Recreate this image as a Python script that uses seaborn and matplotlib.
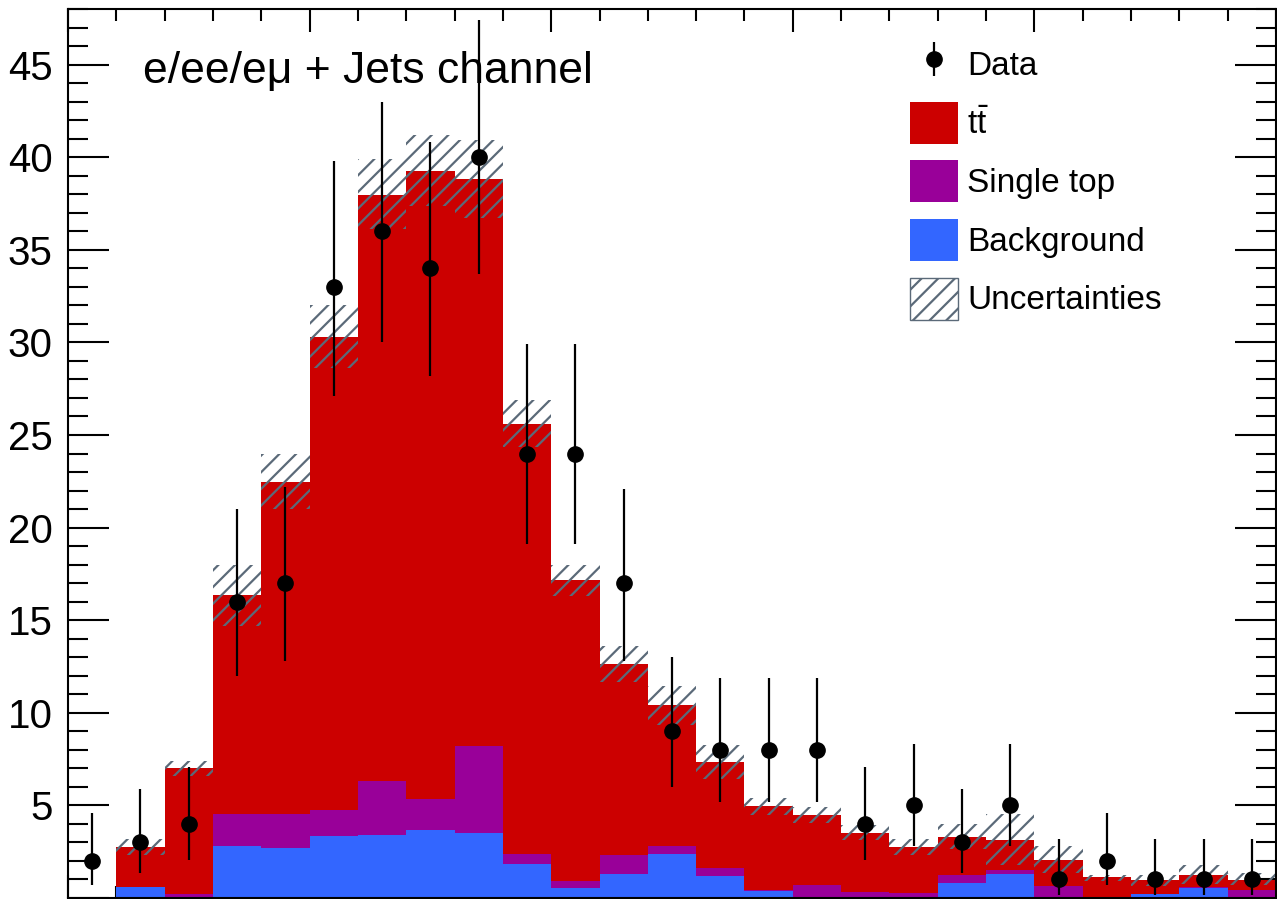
import numpy as np
import pandas as pd
import matplotlib
matplotlib.use("Agg")
import matplotlib.pyplot as plt
import matplotlib.patches as mpatches
from matplotlib.ticker import MultipleLocator, FuncFormatter
import seaborn as sns

# ---------------- data ----------------
n_bins = 25
edges = list(range(n_bins + 1))

background = [0, 0.57, 0, 2.82, 2.71, 3.36, 3.41, 3.65, 3.52, 1.81, 0.52, 1.31, 2.39,
              1.17, 0.39, 0, 0, 0, 0.82, 1.31, 0, 0, 0.23, 0.54, 0]
single_top = [0, 0, 0.23, 1.69, 1.84, 1.40, 2.93, 1.71, 4.69, 0.58, 0.41, 1.03, 0.43,
              0.46, 0.03, 0.68, 0.32, 0.29, 0.44, 0.22, 0.66, 0, 0, 0.04, 0.43]
ttbar = [0, 2.21, 6.77, 11.84, 17.90, 25.54, 31.61, 33.91, 30.62, 23.21, 16.22, 10.30,
         7.61, 5.72, 4.54, 3.81, 3.20, 2.46, 2.06, 1.61, 1.41, 1.13, 0.72, 0.68, 0.52]

unc_hi = [0, 3.2, 7.4, 18.0, 23.95, 32.0, 39.9, 41.2, 40.9, 26.9, 18.0, 13.6, 11.43,
          8.27, 5.41, 4.9, 3.92, 3.16, 3.97, 4.51, 2.8, 1.26, 1.26, 1.76, 1.36]
unc_lo = [0, 2.3, 6.6, 14.7, 21.0, 28.6, 36.1, 37.35, 36.7, 24.35, 16.3, 11.66, 9.35,
          6.43, 4.46, 4.06, 3.11, 2.3, 2.66, 1.76, 1.35, 0.9, 0.66, 0.77, 0.68]

data_n = [2, 3, 4, 16, 17, 33, 36, 34, 40, 24, 24, 17, 9, 8, 8, 8, 4, 5, 3, 5, 1, 2, 1, 1, 1]
data_hi = [4.6, 5.9, 7.1, 21.0, 22.2, 39.8, 43.0, 40.8, 47.4, 29.9, 29.9, 22.1, 13.0,
           11.9, 11.9, 11.9, 7.1, 8.3, 5.9, 8.3, 3.2, 4.6, 3.2, 3.2, 3.2]
data_lo = [0.7, 1.35, 2.05, 12.0, 12.8, 27.1, 30.0, 28.2, 33.7, 19.1, 19.1, 12.8, 6.0,
           5.2, 5.2, 5.2, 2.05, 2.8, 1.35, 2.8, 0.17, 0.7, 0.17, 0.17, 0.17]

processes = ["tt", "Single top", "Background"]
colors = {"tt": "#CC0000", "Single top": "#990099", "Background": "#3366FF"}
hatch_color = "#5b6a79"
label_text = "e/ee/eμ + Jets channel"

# ---------------- style ----------------
sns.set_theme(style="ticks")
plt.rcParams["font.family"] = ["Liberation Sans", "DejaVu Sans"]
plt.rcParams["mathtext.fontset"] = "custom"
plt.rcParams["mathtext.rm"] = "Liberation Sans"
plt.rcParams["mathtext.it"] = "Liberation Sans"
plt.rcParams["hatch.linewidth"] = 1.6
for k in ["text.color", "axes.labelcolor", "xtick.color", "ytick.color", "axes.edgecolor"]:
    plt.rcParams[k] = "black"

fig = plt.figure(figsize=(12.77, 8.99), dpi=100)
ax = fig.add_axes([68 / 1277, 1 - 898 / 899, (1276 - 68) / 1277, (898 - 9) / 899])

centers = [e + 0.5 for e in edges[:-1]]
df = pd.DataFrame({
    "x": centers * 3,
    "w": ttbar + single_top + background,
    "process": ["tt"] * n_bins + ["Single top"] * n_bins + ["Background"] * n_bins,
})

sns.histplot(data=df, x="x", weights="w", hue="process", hue_order=processes,
             multiple="stack", bins=edges, palette=colors, alpha=1, linewidth=0,
             edgecolor="none", legend=False, ax=ax, zorder=2)

# uncertainty band
lo = np.array(unc_lo)
hi = np.array(unc_hi)
ax.bar(centers, hi - lo, bottom=lo, width=1.0, fill=False, hatch="//",
       edgecolor=hatch_color, linewidth=0, zorder=3)

# data
n = np.array(data_n, dtype=float)
yerr = [n - np.array(data_lo), np.array(data_hi) - n]
eb = ax.errorbar(centers, n, yerr=yerr, fmt="o", color="black", markersize=11,
                 elinewidth=1.6, capsize=0, zorder=5)

ax.set_xlim(0, 25)
ax.set_ylim(0, 48)
ax.set_xlabel("")
ax.set_ylabel("")

ax.xaxis.set_major_locator(MultipleLocator(5))
ax.xaxis.set_minor_locator(MultipleLocator(1))
ax.yaxis.set_major_locator(MultipleLocator(5))
ax.yaxis.set_minor_locator(MultipleLocator(1))
ax.yaxis.set_major_formatter(FuncFormatter(lambda v, p: "" if abs(v) < 1e-9 else f"{v:g}"))
ax.xaxis.set_major_formatter(FuncFormatter(lambda v, p: ""))

ax.tick_params(axis="both", which="both", direction="in", top=True, right=True,
               width=1.5, color="black", labelcolor="black")
ax.tick_params(axis="y", which="major", length=29.5, labelsize=29, pad=11)
ax.tick_params(axis="y", which="minor", length=14.5)
ax.tick_params(axis="x", which="major", length=16.5)
ax.tick_params(axis="x", which="minor", length=8.3)
for s in ax.spines.values():
    s.set_linewidth(1.5)
    s.set_color("black")
    s.set_zorder(6)

ax.text((143 - 68) / 1208, 1 - (83 - 9) / 889, label_text, transform=ax.transAxes,
        fontsize=32, ha="left", va="baseline", color="black", zorder=7)

handles = [
    eb,
    mpatches.Patch(facecolor=colors["tt"], edgecolor="none"),
    mpatches.Patch(facecolor=colors["Single top"], edgecolor="none"),
    mpatches.Patch(facecolor=colors["Background"], edgecolor="none"),
    mpatches.Patch(facecolor="white", edgecolor=hatch_color, hatch="//", linewidth=1.0),
]
labels = ["Data", r"$\mathrm{t\bar{t}}$", "Single top", "Background", "Uncertainties"]
leg = ax.legend(handles, labels, loc="upper left",
                bbox_to_anchor=((910 - 68) / 1208, 1 - (43 - 9) / 889),
                frameon=False, fontsize=24, borderpad=0, borderaxespad=0,
                handlelength=1.44, handleheight=1.56, handletextpad=0.27,
                labelspacing=0.5, labelcolor="black")
leg.set_zorder(8)

fig.savefig("out.png", dpi=100)
